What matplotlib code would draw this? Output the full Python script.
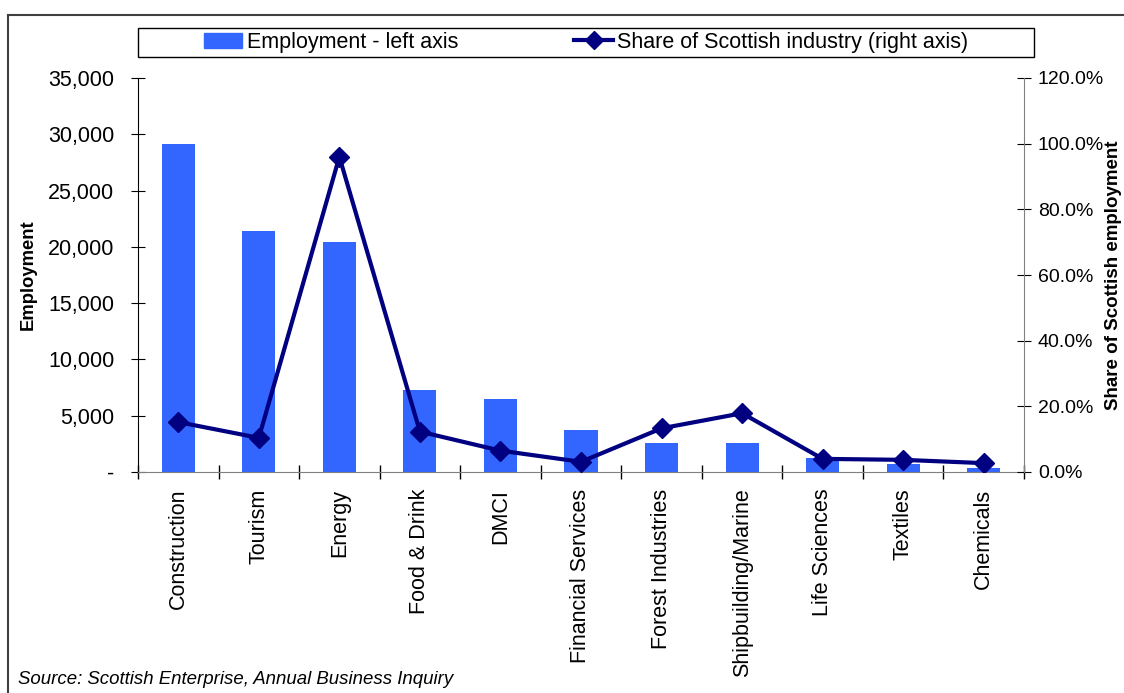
import numpy as np
import matplotlib.pyplot as plt
from matplotlib.ticker import FuncFormatter, MultipleLocator
from matplotlib.lines import Line2D
from matplotlib.patches import Patch, Rectangle

categories = ["Construction", "Tourism", "Energy", "Food & Drink", "DMCI",
              "Financial Services", "Forest Industries", "Shipbuilding/Marine",
              "Life Sciences", "Textiles", "Chemicals"]
employment = [29150, 21450, 20400, 7300, 6500, 3750, 2600, 2600, 1250, 700, 350]
share = [15.2, 10.4, 96.0, 12.3, 6.5, 3.1, 13.3, 17.9, 4.0, 3.7, 2.7]

plt.rcParams['font.family'] = ['Liberation Sans', 'DejaVu Sans']

fig = plt.figure(figsize=(11.24, 6.93), dpi=100)
ax = fig.add_axes([138/1124, 1 - 472/693, (1024 - 138)/1124, (472 - 78)/693])
ax2 = ax.twinx()

x = np.arange(len(categories))
ax.bar(x, employment, width=0.41, color="#3366FF", zorder=2)
ax2.plot(x, share, color="#000080", lw=3, marker="D", markersize=10, zorder=3)

ax.set_xlim(-0.5, len(categories) - 0.5)
ax.set_ylim(0, 35000)
ax2.set_ylim(0, 120)
ax.yaxis.set_major_locator(MultipleLocator(5000))
ax2.yaxis.set_major_locator(MultipleLocator(20))
ax.yaxis.set_major_formatter(FuncFormatter(lambda v, p: "-" if v == 0 else f"{v:,.0f}"))
ax2.yaxis.set_major_formatter(FuncFormatter(lambda v, p: f"{v:.1f}%"))

ax.set_xticks(x)
ax.set_xticklabels(categories, rotation=90, fontsize=15.5)
ax.tick_params(axis="x", length=0, pad=12)
ax.set_xticks(np.arange(-0.5, len(categories) + 0.5, 1), minor=True)
ax.tick_params(axis="x", which="minor", direction="inout", length=10, width=1)
ax.tick_params(axis="y", direction="inout", length=10, labelsize=15.5, pad=12)
ax2.tick_params(axis="y", direction="inout", length=10, labelsize=14, pad=5)

for a in (ax, ax2):
    a.spines["top"].set_visible(False)
ax2.spines["left"].set_visible(False)
ax2.spines["bottom"].set_visible(False)
ax.spines["right"].set_visible(False)
ax.spines["bottom"].set_color("#808080")
ax2.spines["right"].set_color("#808080")

ax.set_ylabel("Employment", fontsize=13.3, fontweight="bold", labelpad=8)
fig.text(1114/1124, 1 - 275/693, "Share of Scottish employment", rotation=90,
         fontsize=13.5, fontweight="bold", ha="center", va="center")

fig.add_artist(Rectangle((138/1124, 1 - 57/693), (1034 - 138)/1124, 29/693,
                         transform=fig.transFigure, fill=False, edgecolor="black", lw=1))
handles = [Patch(color="#3366FF"),
           Line2D([0], [0], color="#000080", lw=3, marker="D", markersize=9)]
fig.legend(handles, ["Employment - left axis", "Share of Scottish industry (right axis)"],
           loc="center", ncol=2, bbox_to_anchor=(586/1124, 1 - 42.5/693),
           fontsize=15.5, frameon=False, handlelength=1.8, handletextpad=0.2,
           columnspacing=5.4)

fig.text(18/1124, 1 - 679/693, "Source: Scottish Enterprise, Annual Business Inquiry",
         fontsize=13.4, style="italic", va="center")

fig.add_artist(Line2D([8/1124, 8/1124], [0, 1 - 15/693], color="#404040", lw=1.5))
fig.add_artist(Line2D([8/1124, 1], [1 - 15/693, 1 - 15/693], color="#404040", lw=1.5))

fig.savefig("out.png", dpi=100)
